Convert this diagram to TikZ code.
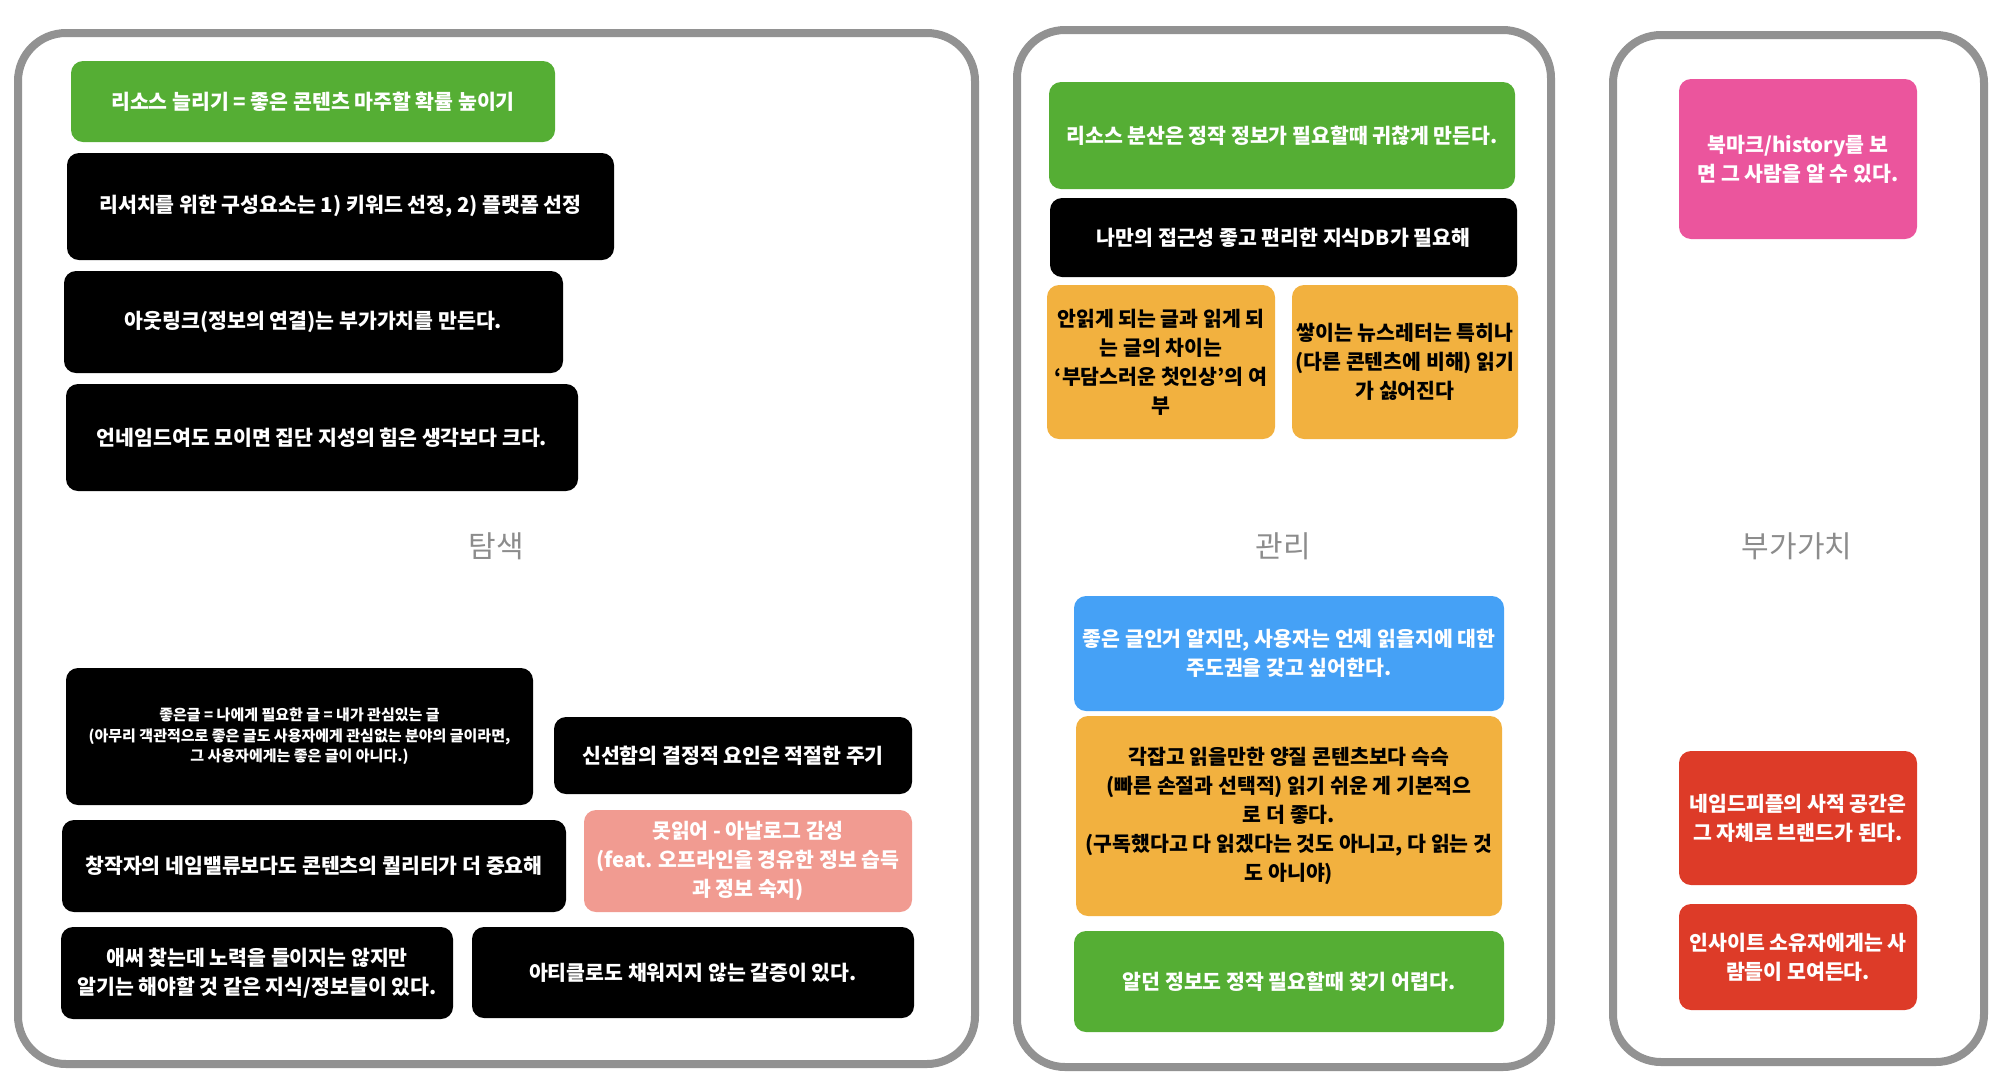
\documentclass[tikz,border=0pt]{standalone}
\usepackage{fontspec}
\setmainfont{Noto Sans CJK KR}
\definecolor{boardgray}{HTML}{929292}
\definecolor{leafgreen}{HTML}{55AE34}
\definecolor{amber}{HTML}{F2B13F}
\definecolor{skyblue}{HTML}{45A1F6}
\definecolor{rosepink}{HTML}{EB559D}
\definecolor{salmon}{HTML}{F19B91}
\definecolor{brickred}{HTML}{DD3B28}
\tikzset{
  card/.style={rounded corners=12pt, fill=black, text=white, align=center,
    inner sep=0pt, font=\bfseries\fontsize{20.5}{29}\selectfont},
  panel/.style={draw=boardgray, line width=8pt, rounded corners=48pt},
  title/.style={text=black!45, font=\fontsize{30}{36}\selectfont},
}
\begin{document}
\begin{tikzpicture}[x=1pt, y=-1pt]
  \useasboundingbox (0,0) rectangle (2006,1088);
  \draw[panel] (18,33) rectangle (975,1064);
  \draw[panel] (1017,30) rectangle (1551,1067);
  \draw[panel] (1613,35) rectangle (1984,1062);
  \foreach \x/\name/\txt in {496/explore/탐색, 1283/manage/관리, 1797/extra/부가가치}
    \node[title] (\name) at (\x,546) {\txt};
  % 탐색
  \node[card, fill=leafgreen, minimum width=484pt, minimum height=81pt] (more) at (313,101.5)
    {리소스 늘리기 = 좋은 콘텐츠 마주할 확률 높이기};
  \node[card, minimum width=547pt, minimum height=107pt] (parts) at (340.5,206.5)
    {리서치를 위한 구성요소는 1) 키워드 선정, 2) 플랫폼 선정};
  \node[card, minimum width=499pt, minimum height=102pt] (outlink) at (313.5,322)
    {아웃링크(정보의 연결)는 부가가치를 만든다.};
  \node[card, minimum width=512pt, minimum height=107pt] (crowd) at (322,437.5)
    {언네임드여도 모이면 집단 지성의 힘은 생각보다 크다.};
  \node[card, minimum width=467pt, minimum height=137pt,
        font=\bfseries\fontsize{15}{20.5}\selectfont] (goodpost) at (299.5,736.5)
    {좋은글 = 나에게 필요한 글 = 내가 관심있는 글\\
     (아무리 객관적으로 좋은 글도 사용자에게 관심없는 분야의 글이라면,\\
     그 사용자에게는 좋은 글이 아니다.)};
  \node[card, minimum width=358pt, minimum height=77pt] (fresh) at (733,755.5)
    {신선함의 결정적 요인은 적절한 주기};
  \node[card, minimum width=504pt, minimum height=92pt] (quality) at (314,866)
    {창작자의 네임밸류보다도 콘텐츠의 퀄리티가 더 중요해};
  \node[card, fill=salmon, minimum width=328pt, minimum height=102pt] (analog) at (748,861)
    {못읽어 - 아날로그 감성\\(feat. 오프라인을 경유한 정보 습득\\과 정보 숙지)};
  \node[card, minimum width=392pt, minimum height=92pt] (effort) at (257,973)
    {애써 찾는데 노력을 들이지는 않지만\\알기는 해야할 것 같은 지식/정보들이 있다.};
  \node[card, minimum width=442pt, minimum height=91pt] (thirst) at (693,972.5)
    {아티클로도 채워지지 않는 갈증이 있다.};
  % 관리
  \node[card, fill=leafgreen, minimum width=466pt, minimum height=107pt] (spread) at (1282,135.5)
    {리소스 분산은 정작 정보가 필요할때 귀찮게 만든다.};
  \node[card, minimum width=467pt, minimum height=79pt] (mydb) at (1283.5,237.5)
    {나만의 접근성 좋고 편리한 지식DB가 필요해};
  \node[card, fill=amber, text=black, minimum width=228pt, minimum height=154pt] (firstlook) at (1161,362)
    {안읽게 되는 글과 읽게 되\\는 글의 차이는\\‘부담스러운 첫인상'의 여\\부};
  \node[card, fill=amber, text=black, minimum width=226pt, minimum height=154pt] (letters) at (1405,362)
    {쌓이는 뉴스레터는 특히나\\(다른 콘텐츠에 비해) 읽기\\가 싫어진다};
  \node[card, fill=skyblue, minimum width=430pt, minimum height=115pt] (when) at (1289,653.5)
    {좋은 글인거 알지만, 사용자는 언제 읽을지에 대한\\주도권을 갖고 싶어한다.};
  \node[card, fill=amber, text=black, minimum width=426pt, minimum height=200pt] (easy) at (1289,816)
    {각잡고 읽을만한 양질 콘텐츠보다 슥슥\\(빠른 손절과 선택적) 읽기 쉬운 게 기본적으\\로 더 좋다.\\(구독했다고 다 읽겠다는 것도 아니고, 다 읽는 것\\도 아니야)};
  \node[card, fill=leafgreen, minimum width=430pt, minimum height=101pt] (lost) at (1289,981.5)
    {알던 정보도 정작 필요할때 찾기 어렵다.};
  % 부가가치
  \node[card, fill=rosepink, minimum width=238pt, minimum height=160pt] (bookmark) at (1798,159)
    {북마크/history를 보\\면 그 사람을 알 수 있다.};
  \node[card, fill=brickred, minimum width=238pt, minimum height=134pt] (brand) at (1798,818)
    {네임드피플의 사적 공간은\\그 자체로 브랜드가 된다.};
  \node[card, fill=brickred, minimum width=238pt, minimum height=106pt] (insight) at (1798,957)
    {인사이트 소유자에게는 사\\람들이 모여든다.};
\end{tikzpicture}
\end{document}
